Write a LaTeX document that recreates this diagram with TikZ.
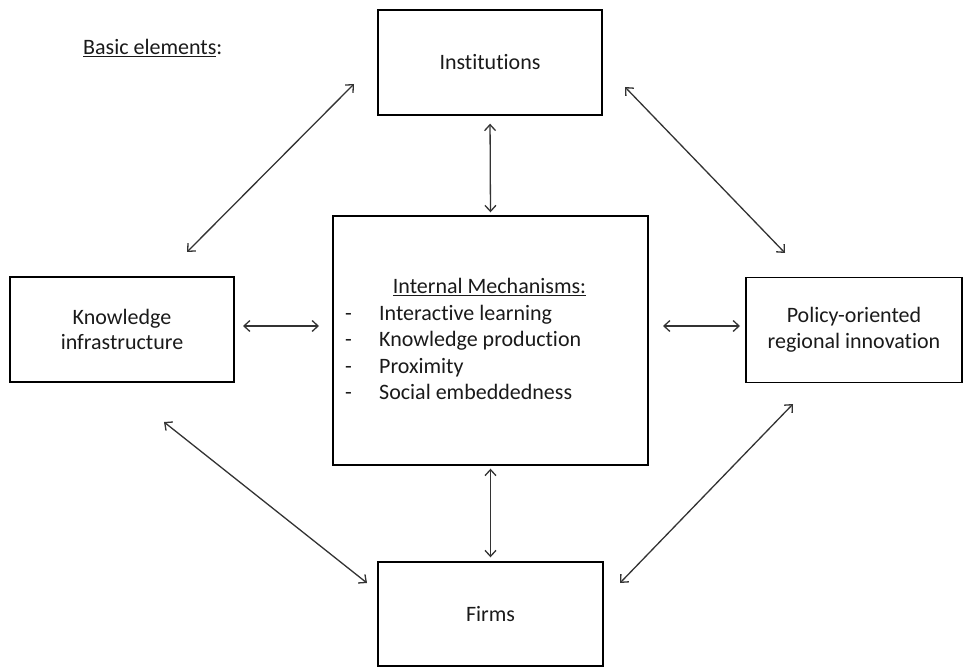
\documentclass[tikz,border=0pt]{standalone}
\usepackage{fontspec}
\setmainfont{Carlito}[Ligatures=NoCommon]
\usetikzlibrary{arrows.meta}
\definecolor{ink}{HTML}{1A1A1A}
\definecolor{wire}{HTML}{333333}
\begin{document}
\begin{tikzpicture}[x=1pt,y=-1pt,
  box/.style={draw=black, line width=1.4pt, inner sep=0pt, text=ink,
    align=center, font=\fontsize{22}{25.5}\selectfont},
  link/.style={draw=wire, line width=1.3pt,
    {Straight Barb[length=6pt,width=11pt]}-{Straight Barb[length=6pt,width=11pt]}},
  label/.style={text=ink, inner sep=0pt, font=\fontsize{22}{26.5}\selectfont}]
\useasboundingbox (0,0) rectangle (964,668);

% boxes
\node[box, minimum width=224pt, minimum height=105pt] (inst) at (490,62.5) {Institutions};
\node[box, minimum width=224pt, minimum height=105pt] (know) at (122,329.5) {Knowledge\\infrastructure};
\node[box, minimum width=315pt, minimum height=249pt] (mech) at (490.5,340.5) {};
\node[box, minimum width=216pt, minimum height=105pt] (pol) at (854,330) {Policy-oriented\\regional innovation};
\node[box, minimum width=225pt, minimum height=104pt] (firms) at (490.5,614) {Firms};

% texts
\node[label, anchor=base west] (basic) at (83,55) {\underline{Basic elements}:};
\node[label, anchor=base] (mtitle) at (489.5,294) {\underline{Internal Mechanisms:}};
\node[label, anchor=base west] (mlist) at (345,320.5)
  {\begin{tabular}[t]{@{}p{34pt}@{}l@{}}
   - & Interactive learning\\
   - & Knowledge production\\
   - & Proximity\\
   - & Social embeddedness
   \end{tabular}};

% free ends of the connectors
\coordinate (a1) at (187,252);
\coordinate (a2) at (354,84);
\coordinate (a3) at (625,87);
\coordinate (a4) at (785,253);
\coordinate (a5) at (243,326);
\coordinate (a6) at (319,326);
\coordinate (a7) at (663,326);
\coordinate (a8) at (740,326);
\coordinate (a9) at (164,422);
\coordinate (a10) at (367,583);
\coordinate (a11) at (793,404);
\coordinate (a12) at (620,583);

% connectors
\draw[link] (a1) -- (a2);
\draw[link] (a3) -- (a4);
\draw[link, shorten <=8pt, shorten >=3pt] (inst.south) -- (mech.north);
\draw[link, shorten <=3pt, shorten >=4pt] (mech.south) -- (firms.north);
\draw[link] (a5) -- (a6);
\draw[link] (a7) -- (a8);
\draw[link] (a9) -- (a10);
\draw[link] (a11) -- (a12);
\end{tikzpicture}
\end{document}
